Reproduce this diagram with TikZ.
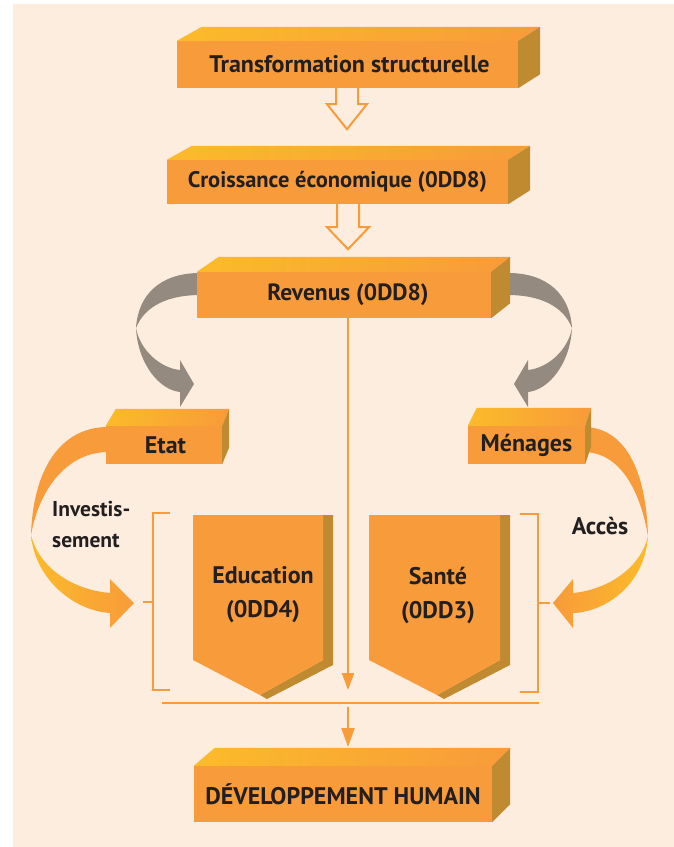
\documentclass[tikz,border=0pt]{standalone}
\usepackage{fontspec}
\setmainfont{PT Sans}
\usetikzlibrary{arrows.meta,calc}
\definecolor{cream}{HTML}{FDEDDF}
\definecolor{orng}{HTML}{F89B3A}
\definecolor{yel}{HTML}{FBBB2A}
\definecolor{sideclr}{HTML}{BF8A30}
\definecolor{grayarr}{HTML}{948A80}
\definecolor{txt}{HTML}{231F20}
\tikzset{
  lbl/.style={text=txt, font=\bfseries\fontsize{24}{31}\selectfont, inner sep=0pt},
  frontface/.style={fill=orng, draw=none, inner sep=0pt, text=txt, font=\bfseries\fontsize{24}{28}\selectfont},
  conn/.style={draw=orng, line width=2pt},
  hollow/.style={draw=orng, fill=cream, line width=2pt, line join=miter},
  tipA/.style={-{Triangle[length=17pt,width=12pt]}},
}
% name, x1, y1, x2, y2, dx, dy, text
\newcommand\cubebox[8]{%
  \node[frontface, minimum width={(#4-#2)*1pt}, minimum height={(#5-#3)*1pt}] (#1) at ({(#2+#4)/2},{(#3+#5)/2}) {#8};
  \shade[left color=yel, right color=orng, middle color=yel!50!orng] (#1.north west) -- (#1.north east) -- ++(#6,#7) -- ($(#1.north west)+(#6+3,#7)$) -- cycle;
  \fill[sideclr] (#1.north east) -- ++(#6,#7) -- ($(#1.south east)+(#6,#7)$) -- (#1.south east) -- cycle;
}
\begin{document}
\begin{tikzpicture}[x=1pt,y=-1pt]
\useasboundingbox (0,0) rectangle (674,847);
\fill[white] (0,0) rectangle (674,847);
\fill[cream] (13,4) rectangle (674,847);

% gray curved arrows
\fill[grayarr] (200,273) .. controls (160,273) and (138,295) .. (136,328) .. controls (145,305) and (170,295) .. (200,295) -- cycle;
\fill[grayarr] (136,328) .. controls (138,365) and (160,390) .. (180,392) -- (180,407) -- (194,384) -- (180,360) -- (180,370) .. controls (160,368) and (140,350) .. (136,328) -- cycle;
\fill[grayarr] (508,273) .. controls (548,273) and (570,295) .. (572,328) .. controls (563,305) and (538,295) .. (508,295) -- cycle;
\fill[grayarr] (572,328) .. controls (570,365) and (548,390) .. (528,392) -- (528,407) -- (514,384) -- (528,360) -- (528,370) .. controls (548,368) and (568,350) .. (572,328) -- cycle;

% orange curved arrows
\fill[orng] (108,427) .. controls (60,427) and (33,470) .. (31,535) .. controls (40,485) and (70,452) .. (108,452) -- cycle;
\shade[left color=yel, right color=orng] (31,535) .. controls (35,580) and (75,611) .. (110,613) -- (110,628) -- (134,603) -- (110,579) -- (110,593) .. controls (75,590) and (40,570) .. (31,535) -- cycle;
\fill[orng] (583,427) .. controls (625,427) and (646,470) .. (648,536) .. controls (640,490) and (620,452) .. (583,452) -- cycle;
\shade[left color=orng, right color=yel] (648,536) .. controls (645,585) and (605,612) .. (573,613) -- (573,628) -- (553,603) -- (573,579) -- (573,593) .. controls (605,590) and (640,570) .. (648,536) -- cycle;

% boxes
\cubebox{trans}{177}{41}{518}{88}{22}{-14}{\hspace*{4pt}Transformation structurelle}
\cubebox{crois}{167}{160}{508}{204}{22}{-14}{\fontsize{22.5}{28}\selectfont Croissance économique (0DD8)}
\cubebox{rev}{197}{272}{491}{318}{19}{-15}{\hspace*{8pt}\fontsize{23.5}{28}\selectfont Revenus (0DD8)}
\cubebox{etat}{106}{426}{222}{464}{7}{-17}{\hspace*{3pt}Etat}
\cubebox{men}{468}{426}{585}{464}{6}{-18}{Ménages}
\cubebox{dev}{194}{766}{492}{822}{18}{-18}{DÉVELOPPEMENT HUMAIN}

% hollow arrows
\draw[hollow] ([xshift=-11.5pt]trans.south) -- ++(0,16) -- ++(-9,0) -- ++(20,25) -- ++(20,-25) -- ++(-9,0) -- ++(0,-16);
\draw[hollow] ([xshift=-0.5pt]crois.south) -- ++(0,23) -- ++(-10,0) -- ++(21,22) -- ++(21,-22) -- ++(-10,0) -- ++(0,-23);

% pentagons
\fill[sideclr] (323,515) -- (333,515) -- (333,665) -- (267,699) -- (260,695) -- (323,660) -- cycle;
\fill[orng] (193,515) -- (323,515) -- (323,660) -- (260,695) -- (193,660) -- cycle;
\node[lbl, align=center, font=\bfseries\fontsize{24}{34}\selectfont] (edu) at (263,595) {Education\\(0DD4)};
\fill[sideclr] (500,515) -- (510,515) -- (510,665) -- (444,699) -- (437,695) -- (500,660) -- cycle;
\fill[orng] (369,515) -- (500,515) -- (500,660) -- (437,695) -- (369,660) -- cycle;
\node[lbl, align=center, font=\bfseries\fontsize{24}{34}\selectfont] (sante) at (438,595) {Santé\\(0DD3)};

% labels
\node[lbl, align=left, anchor=west, font=\bfseries\fontsize{21.5}{31}\selectfont] (inv) at (52,524) {Investis-\\sement};
\node[lbl] (acces) at (600,526) {Accès};

% brackets
\draw[conn] (170,513) -- (153,513) -- (153,690) -- (170,690);
\draw[conn] (143,602) -- (153,602);
\draw[conn] (520,514) -- (538,514) -- (538,692) -- (520,692);
\draw[conn] (538,603) -- (550,603);

% connectors
\coordinate (vEnd) at (348,690);
\draw[conn, tipA] ([xshift=4pt]rev.south) -- (vEnd);
\coordinate (hl) at (162,703);
\coordinate (hr) at (539,703);
\draw[conn] (hl) -- (hr);
\coordinate (dStart) at (348,707);
\coordinate (dEnd) at (348,747);
\draw[conn, -{Triangle[length=19pt,width=13pt]}] (dStart) -- (dEnd);
\end{tikzpicture}
\end{document}
